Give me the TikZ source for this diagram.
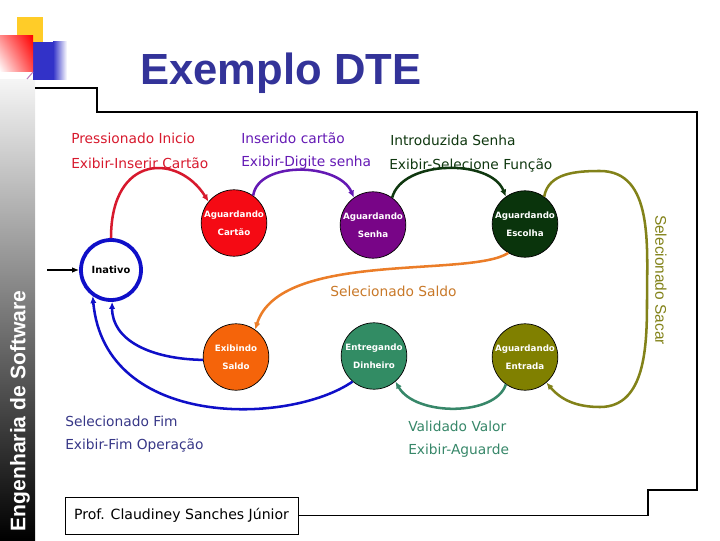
\documentclass[tikz,border=0pt]{standalone}
\usepackage{fontspec}
\setmainfont{DejaVu Sans}
\newfontfamily\arialfont{Liberation Sans}
\usetikzlibrary{shapes.geometric,arrows.meta,shadings}

\definecolor{amarelo}{RGB}{255,204,40}
\definecolor{azulq}{RGB}{50,50,200}
\definecolor{titulo}{RGB}{51,51,153}
\definecolor{vermelho}{RGB}{245,10,20}
\definecolor{roxo}{RGB}{120,5,135}
\definecolor{verdee}{RGB}{10,52,12}
\definecolor{laranja}{RGB}{245,100,10}
\definecolor{verdea}{RGB}{50,140,100}
\definecolor{oliva}{RGB}{128,128,0}
\definecolor{azul}{RGB}{15,15,200}
\definecolor{lvermelho}{RGB}{215,25,45}
\definecolor{lroxo}{RGB}{100,25,180}
\definecolor{lverde}{RGB}{15,55,15}
\definecolor{llaranja}{RGB}{235,125,40}
\definecolor{tlaranja}{RGB}{200,120,40}
\definecolor{lazul}{RGB}{55,55,135}
\definecolor{lverdea}{RGB}{55,135,105}
\definecolor{loliva}{RGB}{130,130,25}

\begin{document}
\begin{tikzpicture}[x=0.025cm,y=0.025cm,
  estado/.style={ellipse, draw=black, line width=0.5pt, minimum width=1.64cm,
    minimum height=1.66cm, inner xsep=-8pt, inner ysep=0pt, align=center, text=white,
    font=\fontsize{6.2}{12.5}\selectfont\bfseries},
  rotulo/.style={anchor=west, inner sep=0pt, font=\fontsize{9.8}{11}\selectfont},
  trans/.style={line width=1.8pt, -{Latex[length=5pt,width=4.5pt]}}]
  \useasboundingbox (0,0) rectangle (720,540);

  %% faixa lateral
  \shade[top color=gray!8, bottom color=black] (0,0) rectangle (35,460);
  \node[rotate=90, text=white, font=\arialfont\bfseries\fontsize{15}{18}\selectfont]
    (faixa) at (20,129) {Engenharia de Software};

  %% quadrados
  \fill[amarelo] (17,497) rectangle (43,523);
  \fill[azulq] (33,460) rectangle (53,498);
  \shade[left color=azulq, right color=white] (53,460) rectangle (67,498);
  \shade[lower left=white, upper left=red!45, upper right=red, lower right=red!70]
    (0,468) rectangle (33,504);
  \draw[violet!50, line width=0.8pt] (27,461) -- (33,468);

  %% titulo
  \node[anchor=base west, inner sep=0pt, text=titulo,
    font=\arialfont\bfseries\fontsize{31}{36}\selectfont] (titulo) at (140,455) {Exemplo DTE};

  %% autor e moldura
  \node[draw, line width=0.6pt, minimum width=5.825cm, minimum height=0.925cm,
    font=\fontsize{10}{12}\selectfont] (autor) at (181.5,24.5) {Prof. Claudiney Sanches Júnior};
  \draw[line width=0.9pt] (35,452) -- (97,452) -- (97,428) -- (697,428) -- (697,50)
    -- (648,50) -- (648,24.5) -- (autor.east);

  %% estados
  \node[circle, draw=azul, line width=2.7pt, fill=white, minimum size=1.5cm, inner sep=0pt,
    font=\fontsize{7}{8}\selectfont\bfseries] (inativo) at (111,270) {Inativo};
  \node[estado, fill=vermelho] (cartao) at (234,317) {Aguardando\\Cartão};
  \node[estado, fill=roxo] (senha) at (373,315) {Aguardando\\Senha};
  \node[estado, fill=verdee] (escolha) at (525,316) {Aguardando\\Escolha};
  \node[estado, fill=laranja] (saldo) at (236,183) {Exibindo\\Saldo};
  \node[estado, fill=verdea] (dinheiro) at (374,184) {Entregando\\Dinheiro};
  \node[estado, fill=oliva] (entrada) at (525,183) {Aguardando\\Entrada};

  %% estado inicial
  \coordinate (inicio) at (47,270);
  \draw[line width=0.9pt, -{Latex[length=5pt,width=4pt]}] (inicio) -- (inativo.west);

  %% transicoes
  \draw[trans, lvermelho] (inativo.north) .. controls +(0,85) and +(-30,48) .. (cartao.140);
  \draw[trans, lroxo] (cartao.55) .. controls +(5,35) and +(-15,35) .. (senha.125);
  \draw[trans, lverde] (senha.55) .. controls +(10,38) and +(-15,38) .. (escolha.125);
  \draw[trans, loliva] (escolha.55) to[out=80,in=180] (600,369) to[out=0,in=90] (647,240)
    to[out=-90,in=0] (600,133) to[out=180,in=-50] (entrada.-50);
  \draw[trans, lverdea] (entrada.-125) .. controls +(-10,-32) and +(20,-35) .. (dinheiro.-50);
  \draw[trans, azul] (dinheiro.-130) .. controls (290,115) and (105,110) .. (inativo.-125);
  \draw[trans, azul] (saldo.185) .. controls (150,181) and (112,200) .. (inativo.-88);
  \draw[trans, llaranja] (escolha.-120) .. controls (470,262) and (280,290) .. (saldo.55);

  %% rotulos
  \node[rotulo, text=lvermelho] (l1a) at (71,402) {Pressionado Inicio};
  \node[rotulo, text=lvermelho] (l1b) at (71,377) {Exibir-Inserir Cartão};
  \node[rotulo, text=lroxo] (l2a) at (241,402) {Inserido cartão};
  \node[rotulo, text=lroxo] (l2b) at (241,377) {Exibir-Digite senha};
  \node[rotulo, text=lverde] (l3a) at (390,400) {Introduzida Senha};
  \node[rotulo, text=lverde] (l3b) at (389,375) {Exibir-Selecione Função};
  \node[rotulo, text=tlaranja] (l5) at (330,249) {Selecionado Saldo};
  \node[rotulo, text=lazul] (l6a) at (65,119) {Selecionado Fim};
  \node[rotulo, text=lazul] (l6b) at (65,94) {Exibir-Fim Operação};
  \node[rotulo, text=lverdea] (l7a) at (408,114) {Validado Valor};
  \node[rotulo, text=lverdea] (l7b) at (408,89) {Exibir-Aguarde};
  \node[rotate=-90, text=loliva, font=\arialfont\fontsize{11}{13}\selectfont]
    (l4) at (661,260) {Selecionado Sacar};
\end{tikzpicture}
\end{document}
